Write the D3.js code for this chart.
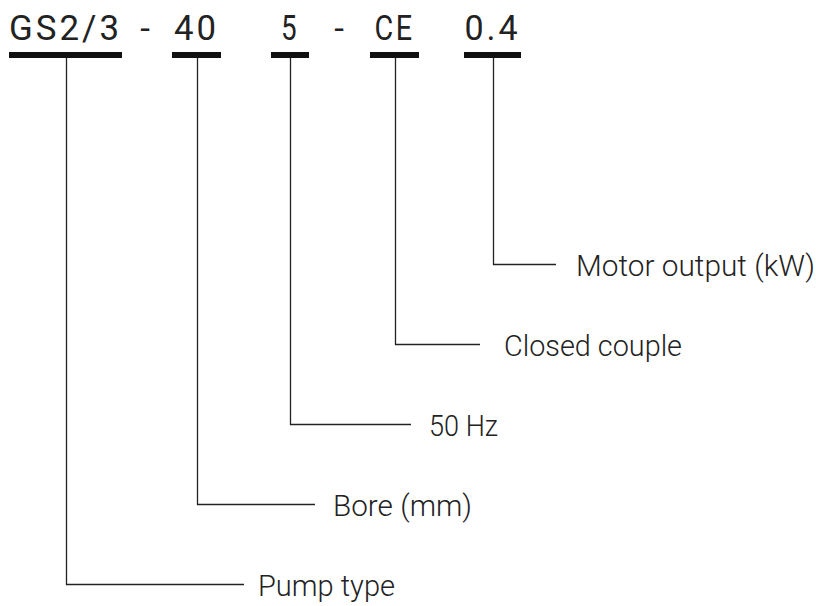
<!DOCTYPE html>
<html><head><meta charset="utf-8">
<script src="https://cdn.jsdelivr.net/npm/d3@7"></script>
<style>html,body{margin:0;padding:0;background:#fff;}</style>
</head><body>
<svg id="c" width="816" height="606"></svg>
<script>
// ---- data ----
const codes = ["GS2/3", "40", "5", "CE", "0.4"];
const separators = ["-", "-"];
const meanings = ["Pump type", "Bore (mm)", "50 Hz", "Closed couple", "Motor output (kW)"];

// ---- layout ----
const barX0 = [9, 172, 271, 370, 464];
const barX1 = [122, 221, 309, 419, 521];
const codeWidths = [113, 45, 18, 40, 56];
const sepX = [145, 339];
const labelX = [258, 333, 429, 504, 576];
const labelW = [137, 139, 69, 178, 239];
const lineEndGap = [14, 18, 18, 24, 20];
const ink = "#222";

const svg = d3.select("#c");
// vertical level of each meaning: Motor output highest, Pump type lowest
const yLevel = d3.scalePoint().domain(meanings.slice().reverse()).range([264, 584]);

const g = svg.append("g");
codes.forEach((c, i) => {
  const cx = (barX0[i] + barX1[i]) / 2;
  g.append("text").attr("x", cx).attr("y", 40)
    .attr("text-anchor", "middle")
    .attr("font-family", "Roboto").attr("font-weight", 400).attr("font-size", 35)
    .attr("letter-spacing", 3)
    .attr("fill", ink)
    .attr("textLength", codeWidths[i]).attr("lengthAdjust", "spacingAndGlyphs")
    .text(c);
  g.append("rect").attr("x", barX0[i]).attr("y", 52)
    .attr("width", barX1[i] - barX0[i]).attr("height", 6).attr("fill", "#111");
  const y = yLevel(meanings[i]);
  const lx = Math.round(cx) + 0.5;
  g.append("path")
    .attr("d", `M${lx},58 V${y + 0.5} H${labelX[i] - lineEndGap[i]}`)
    .attr("fill", "none").attr("stroke", ink).attr("stroke-width", 1.3);
  g.append("text").attr("x", labelX[i]).attr("y", y + 12)
    .attr("font-family", "Roboto").attr("font-weight", 300).attr("font-size", 29)
    .attr("fill", ink)
    .attr("textLength", labelW[i]).attr("lengthAdjust", "spacingAndGlyphs")
    .text(meanings[i]);
});
separators.forEach((s, i) => {
  g.append("text").attr("x", sepX[i]).attr("y", 40)
    .attr("text-anchor", "middle")
    .attr("font-family", "Roboto").attr("font-size", 35)
    .attr("fill", ink).text(s);
});
</script>
</body></html>
